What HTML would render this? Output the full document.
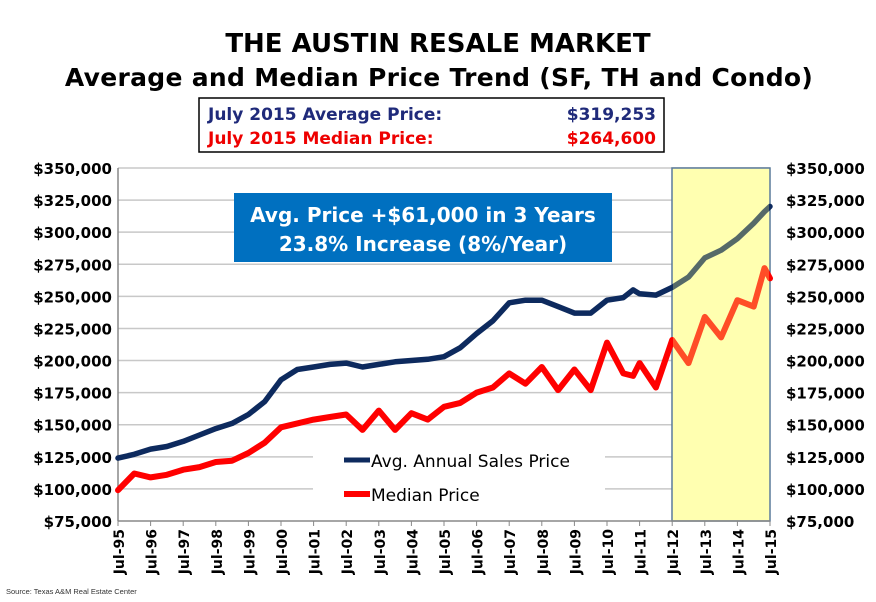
<!DOCTYPE html>
<html><head><meta charset="utf-8"><style>
body{margin:0;background:#fff;width:876px;height:597px;overflow:hidden;font-family:"Liberation Sans","DejaVu Sans",sans-serif}
</style></head><body>
<svg width="876" height="597" xmlns="http://www.w3.org/2000/svg">
<text x="438" y="52" text-anchor="middle" font-size="26" font-weight="bold" font-family="DejaVu Sans, sans-serif">THE AUSTIN RESALE MARKET</text>
<text x="439" y="86" text-anchor="middle" font-size="25" font-weight="bold" letter-spacing="0.3" font-family="DejaVu Sans, sans-serif">Average and Median Price Trend (SF, TH and Condo)</text>
<g>
<rect x="199" y="98" width="465" height="54" fill="#fff" stroke="#000" stroke-width="1.5"/>
<text x="208" y="120" font-size="17" font-weight="bold" fill="#1f2a7a" font-family="DejaVu Sans, sans-serif">July 2015 Average Price:</text>
<text x="656" y="120" text-anchor="end" font-size="17" font-weight="bold" fill="#1f2a7a" font-family="DejaVu Sans, sans-serif">$319,253</text>
<text x="208" y="144" font-size="17" font-weight="bold" fill="#e00" font-family="DejaVu Sans, sans-serif">July 2015 Median Price:</text>
<text x="656" y="144" text-anchor="end" font-size="17" font-weight="bold" fill="#e00" font-family="DejaVu Sans, sans-serif">$264,600</text>
</g>
<g id="grid"></g>
<rect x="672" y="168" width="98" height="353" fill="#ffffc4" stroke="#5a7a9a" stroke-width="1.5"/>
<g id="axes"></g>
<g id="series"></g>
<rect x="673" y="169" width="96" height="351" fill="#ffff80" opacity="0.3"/>
<g>
<rect x="234" y="193" width="378" height="69" fill="#0070c0"/>
<text x="423" y="222" text-anchor="middle" font-size="20" font-weight="bold" fill="#fff" font-family="DejaVu Sans, sans-serif">Avg. Price +$61,000 in 3 Years</text>
<text x="423" y="251" text-anchor="middle" font-size="20" font-weight="bold" fill="#fff" font-family="DejaVu Sans, sans-serif">23.8% Increase (8%/Year)</text>
</g>
<g>
<rect x="313" y="440" width="292" height="72" fill="#fff"/>
<line x1="344" y1="460" x2="370" y2="460" stroke="#0d2a5e" stroke-width="5"/>
<text x="371" y="467" font-size="17" font-family="DejaVu Sans, sans-serif">Avg. Annual Sales Price</text>
<line x1="344" y1="494" x2="370" y2="494" stroke="#f00" stroke-width="6"/>
<text x="371" y="501" font-size="17" font-family="DejaVu Sans, sans-serif">Median Price</text>
</g>
<text x="6" y="594" font-size="7.5" fill="#333">Source: Texas A&amp;M Real Estate Center</text>
</svg>
<script>
const dates=[1995.5,1996,1996.5,1997,1997.5,1998,1998.5,1999,1999.5,2000,2000.5,2001,2001.5,2002,2002.5,2003,2003.5,2004,2004.5,2005,2005.5,2006,2006.5,2007,2007.5,2008,2008.5,2009,2009.5,2010,2010.5,2011,2011.3,2011.5,2012,2012.5,2013,2013.5,2014,2014.5,2015,2015.33,2015.5];
const avgValues=[124,127,131,133,137,142,147,151,158,168,185,193,195,197,198,195,197,199,200,201,203,210,221,231,245,247,247,242,237,237,247,249,255,252,251,257,265,280,286,295,307,316,320];
const medianValues=[99,112,109,111,115,117,121,122,128,136,148,151,154,156,158,146,161,146,159,154,164,167,175,179,190,182,195,177,193,177,214,190,188,198,179,216,198,234,218,247,242,272,264];
const yTicks=[75,100,125,150,175,200,225,250,275,300,325,350];
const xTickLabels=["Jul-95","Jul-96","Jul-97","Jul-98","Jul-99","Jul-00","Jul-01","Jul-02","Jul-03","Jul-04","Jul-05","Jul-06","Jul-07","Jul-08","Jul-09","Jul-10","Jul-11","Jul-12","Jul-13","Jul-14","Jul-15"];
const NS="http://www.w3.org/2000/svg";
const X0=118,X1=770,Y0=521,Y1=168;
function xs(d){return X0+(d-1995.5)/20*(X1-X0);}
function ys(v){return Y0-(v-75)/275*(Y0-Y1);}
function mk(t,a,p){const e=document.createElementNS(NS,t);for(const k in a)e.setAttribute(k,a[k]);p.appendChild(e);return e;}
const grid=document.getElementById('grid'),axes=document.getElementById('axes'),series=document.getElementById('series');
function fmt(v){return '$'+v+',000';}
yTicks.forEach(v=>{
  const y=ys(v);
  if(v>75){const g=mk('line',{x1:X0,x2:X1,y1:y,y2:y,stroke:'#c8c8c8','stroke-width':1.5},grid);
  
  }
  const l=mk('text',{x:112,y:y+6,'text-anchor':'end','font-size':15,'font-weight':'bold','font-family':'DejaVu Sans, sans-serif'},axes);
  l.textContent=fmt(v);
  
  
  const r=mk('text',{x:786,y:y+6,'font-size':15,'font-weight':'bold','font-family':'DejaVu Sans, sans-serif'},axes);
  r.textContent=fmt(v);
  
  
});
mk('line',{x1:X0,x2:X0,y1:Y1,y2:Y0,stroke:'#888','stroke-width':1.5},axes);
mk('line',{x1:X0,x2:X1,y1:Y0,y2:Y0,stroke:'#888','stroke-width':1.5},axes);
xTickLabels.forEach((s,i)=>{
  const x=xs(1995.5+i);
  mk('line',{x1:x,x2:x,y1:Y0,y2:Y0+5,stroke:'#888'},axes);
  const t=mk('text',{x:0,y:0,transform:`translate(${x+6},${Y0+8}) rotate(-90)`,'text-anchor':'end','font-size':14,'font-weight':'bold','font-family':'DejaVu Sans, sans-serif'},axes);
  t.textContent=s;
  
  
});
function line(vals,color,w,name){
  const d=dates.map((t,i)=>(i?'L':'M')+xs(t).toFixed(1)+','+ys(vals[i]).toFixed(1)).join('');
  const p=mk('path',{d:d,fill:'none',stroke:color,'stroke-width':w,'stroke-linejoin':'round','stroke-linecap':'round'},series);
  
  
}
line(avgValues,'#0d2a5e',5.5,'avg-price-line');
line(medianValues,'#f00',6,'median-price-line');
</script>
</body></html>
